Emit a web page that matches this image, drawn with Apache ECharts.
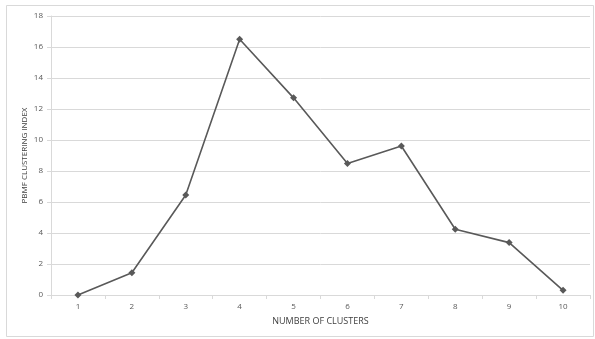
<!DOCTYPE html>
<html><head><meta charset="utf-8">
<script src="https://cdn.jsdelivr.net/npm/echarts@6/dist/echarts.min.js"></script>
<style>html,body{margin:0;padding:0;background:#fff}#c{width:595px;height:339px}</style>
</head><body><div id="c"></div>
<script>
const categories = ['1','2','3','4','5','6','7','8','9','10'];
const pbmValues = [0, 1.44, 6.45, 16.5, 12.72, 8.48, 9.61, 4.24, 3.38, 0.3];
const yTicks = {min: 0, max: 18, interval: 2};

const chart = echarts.init(document.getElementById('c'), null, {renderer: 'canvas'});
chart.setOption({
  animation: false,
  backgroundColor: '#fff',
  graphic: [{type: 'rect', shape: {x: 6.5, y: 5.5, width: 587, height: 331}, style: {fill: 'none', stroke: '#d9d9d9', lineWidth: 1}, silent: true}],
  grid: {left: 51, right: 5, top: 16, bottom: 44, containLabel: false},
  xAxis: {
    type: 'category', data: categories, boundaryGap: true,
    name: 'NUMBER OF CLUSTERS', nameLocation: 'middle', nameGap: 22, nameMoveOverlap: false,
    nameTextStyle: {fontFamily: 'Open Sans, Liberation Sans, sans-serif', fontSize: 9, color: '#404040'},
    axisLine: {lineStyle: {color: '#d9d9d9', width: 1}},
    axisTick: {show: true, length: 4, lineStyle: {color: '#d9d9d9'}},
    axisLabel: {fontFamily: 'Open Sans, Liberation Sans, sans-serif', fontSize: 8, color: '#595959', margin: 8}
  },
  yAxis: {
    type: 'value', min: yTicks.min, max: yTicks.max, interval: yTicks.interval,
    name: 'PBMF CLUSTERING INDEX', nameLocation: 'middle', nameGap: 22, nameMoveOverlap: false,
    nameTextStyle: {fontFamily: 'Open Sans, Liberation Sans, sans-serif', fontSize: 8, color: '#404040'},
    axisLine: {show: true, lineStyle: {color: '#d9d9d9', width: 1}},
    axisTick: {show: true, length: 4, lineStyle: {color: '#d9d9d9'}},
    axisLabel: {fontFamily: 'Open Sans, Liberation Sans, sans-serif', fontSize: 8, color: '#595959', margin: 8},
    splitLine: {lineStyle: {color: '#d9d9d9', width: 1}}
  },
  series: [{
    type: 'line', data: pbmValues,
    symbol: 'diamond', symbolSize: 7,
    lineStyle: {color: '#595959', width: 1.6},
    itemStyle: {color: '#595959'}
  }]
});
</script>
</body></html>
